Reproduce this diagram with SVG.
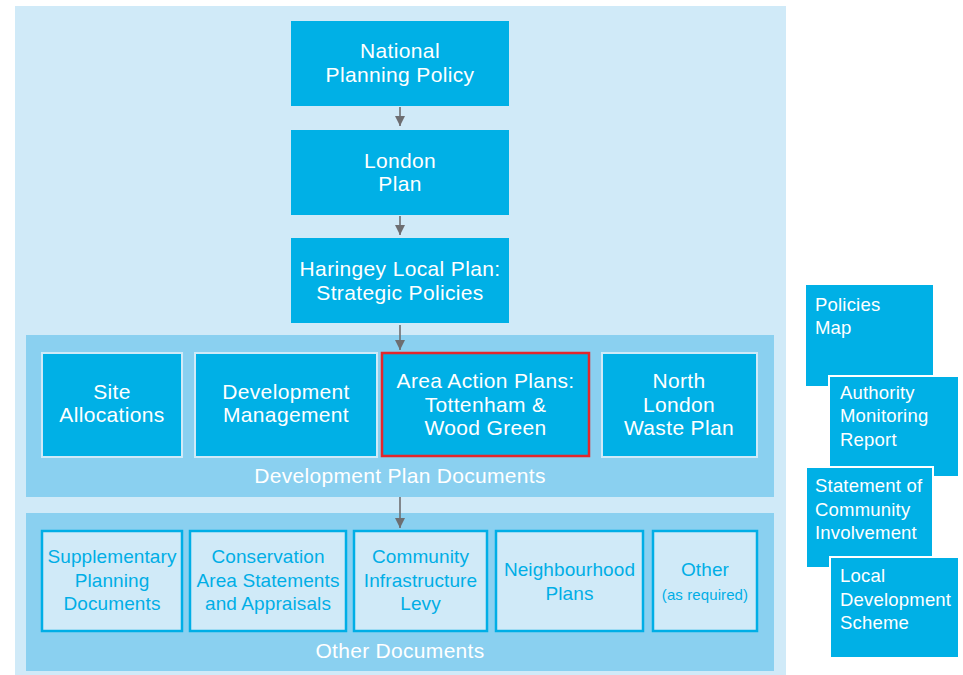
<svg xmlns="http://www.w3.org/2000/svg" width="963" height="675" viewBox="0 0 963 675">
<style>
.main{fill:#00b0e6}
.dp{fill:#00b0e6;stroke:#d0eaf8;stroke-width:2}
.od{fill:#d0eaf8;stroke:#00aee6;stroke-width:2.5}
.side{fill:#00b0e6;stroke:#ffffff;stroke-width:2}
.wt{font-family:"Liberation Sans",Arial,sans-serif;font-size:21px;letter-spacing:0.35px;fill:#ffffff;text-anchor:middle}
.bt{font-family:"Liberation Sans",Arial,sans-serif;font-size:19px;letter-spacing:0.1px;fill:#00aee6;text-anchor:middle}
.st{font-family:"Liberation Sans",Arial,sans-serif;font-size:18.5px;letter-spacing:0.2px;fill:#ffffff}
.lbl{font-family:"Liberation Sans",Arial,sans-serif;font-size:21px;letter-spacing:0.3px;fill:#ffffff;text-anchor:middle}
.conn{stroke:#6d6e71;stroke-width:1.6;fill:none}
</style>
<defs>
<marker id="ah" viewBox="0 0 10 10" refX="10" refY="5" markerWidth="10" markerHeight="10" markerUnits="userSpaceOnUse" orient="auto">
<path d="M0,0 L10,5 L0,10 Z" fill="#6d6e71"/>
</marker>
</defs>
<rect x="15" y="6" width="771" height="669" fill="#d0eaf8"/>
<rect id="panel-dpd" x="26" y="335" width="748" height="162" fill="#8ad0f0"/>
<rect id="panel-od" x="26" y="513" width="748" height="158" fill="#8ad0f0"/>
<text class="lbl" x="400" y="483">Development Plan Documents</text>
<text class="lbl" x="400" y="658">Other Documents</text>

<g id="connectors">
<line class="conn" x1="400" y1="107" x2="400" y2="126" marker-end="url(#ah)"/>
<line class="conn" x1="400" y1="216" x2="400" y2="235" marker-end="url(#ah)"/>
<line class="conn" x1="400" y1="325" x2="400" y2="350" marker-end="url(#ah)"/>
<line class="conn" x1="400" y1="497" x2="400" y2="528" marker-end="url(#ah)"/>
</g>

<g id="national">
<rect class="main" x="291" y="21" width="218" height="85"/>
<text class="wt" x="400" y="58">National</text>
<text class="wt" x="400" y="82">Planning Policy</text>
</g>
<g id="london">
<rect class="main" x="291" y="130" width="218" height="85"/>
<text class="wt" x="400" y="168">London</text>
<text class="wt" x="400" y="191">Plan</text>
</g>
<g id="haringey">
<rect class="main" x="291" y="238" width="218" height="85"/>
<text class="wt" x="400" y="276">Haringey Local Plan:</text>
<text class="wt" x="400" y="300">Strategic Policies</text>
</g>

<g id="site-allocations">
<rect class="dp" x="42" y="353" width="140" height="104"/>
<text class="wt" x="112" y="399">Site</text>
<text class="wt" x="112" y="422">Allocations</text>
</g>
<g id="dev-management">
<rect class="dp" x="195" y="353" width="182" height="104"/>
<text class="wt" x="286" y="399">Development</text>
<text class="wt" x="286" y="422">Management</text>
</g>
<g id="area-action">
<rect x="382" y="353" width="207" height="103" fill="#00b0e6" stroke="#e3262b" stroke-width="2.5"/>
<text class="wt" x="485.5" y="388">Area Action Plans:</text>
<text class="wt" x="485.5" y="412">Tottenham &amp;</text>
<text class="wt" x="485.5" y="435">Wood Green</text>
</g>
<g id="north-london">
<rect class="dp" x="602" y="353" width="155" height="104"/>
<text class="wt" x="679" y="388">North</text>
<text class="wt" x="679" y="412">London</text>
<text class="wt" x="679" y="435">Waste Plan</text>
</g>

<g id="spd">
<rect class="od" x="42" y="531" width="140" height="100"/>
<text class="bt" x="112" y="563">Supplementary</text>
<text class="bt" x="112" y="587">Planning</text>
<text class="bt" x="112" y="610">Documents</text>
</g>
<g id="conservation">
<rect class="od" x="190" y="531" width="156" height="100"/>
<text class="bt" x="268" y="563">Conservation</text>
<text class="bt" x="268" y="587">Area Statements</text>
<text class="bt" x="268" y="610">and Appraisals</text>
</g>
<g id="cil">
<rect class="od" x="354" y="531" width="133" height="100"/>
<text class="bt" x="420.5" y="563">Community</text>
<text class="bt" x="420.5" y="587">Infrastructure</text>
<text class="bt" x="420.5" y="610">Levy</text>
</g>
<g id="neighbourhood">
<rect class="od" x="496" y="531" width="147" height="100"/>
<text class="bt" x="569.5" y="576">Neighbourhood</text>
<text class="bt" x="569.5" y="600">Plans</text>
</g>
<g id="other">
<rect class="od" x="653" y="531" width="104" height="100"/>
<text class="bt" x="705" y="576">Other</text>
<text class="bt" x="705" y="600" style="font-size:15px">(as required)</text>
</g>

<g id="policies-map">
<rect class="main" x="806" y="285" width="127" height="101"/>
<text class="st" x="815" y="311">Policies</text>
<text class="st" x="815" y="334">Map</text>
</g>
<g id="amr">
<rect class="side" x="829" y="376" width="130" height="101"/>
<text class="st" x="840" y="399">Authority</text>
<text class="st" x="840" y="422">Monitoring</text>
<text class="st" x="840" y="446">Report</text>
</g>
<g id="sci">
<rect class="side" x="806" y="467" width="127" height="101"/>
<text class="st" x="815" y="492">Statement of</text>
<text class="st" x="815" y="516">Community</text>
<text class="st" x="815" y="539">Involvement</text>
</g>
<g id="lds">
<rect class="side" x="830" y="557" width="129" height="101"/>
<text class="st" x="840" y="582">Local</text>
<text class="st" x="840" y="606">Development</text>
<text class="st" x="840" y="629">Scheme</text>
</g>
</svg>
